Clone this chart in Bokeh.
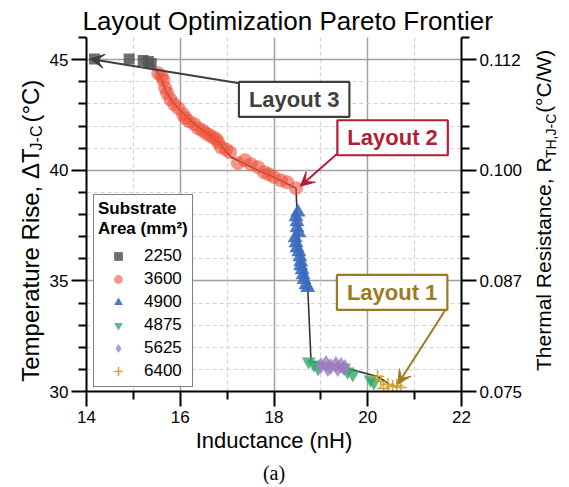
import math
from bokeh.plotting import figure
from bokeh.layouts import row
from bokeh.models import (Range1d, LinearAxis, FixedTicker, Label, Arrow, VeeHead,
                          Legend, LegendItem, Title)
from bokeh.embed import file_html
from bokeh.resources import INLINE

# ---------------- data ----------------
sq_x = [14.17, 14.91, 15.21, 15.32, 15.38]
sq_y = [45.03, 45.03, 44.96, 44.92, 44.83]

ci_x = [15.53, 15.60, 15.64, 15.68, 15.72, 15.79, 15.87, 15.96, 16.06, 16.11, 16.19,
        16.30, 16.38, 16.47, 16.55, 16.62, 16.70, 16.77, 16.81, 16.87, 16.98, 17.06,
        17.23, 17.38, 17.51, 17.66, 17.79, 17.89, 18.00, 18.15, 18.28, 18.47]
ci_y = [44.38, 44.25, 44.07, 43.71, 43.48, 43.21, 42.98, 42.80, 42.53, 42.35, 42.21,
        42.08, 41.90, 41.81, 41.67, 41.58, 41.49, 41.40, 41.26, 41.04, 40.94, 40.81,
        40.32, 40.45, 40.27, 40.14, 39.91, 39.82, 39.69, 39.55, 39.46, 39.19]

tri_x = [18.51, 18.47, 18.49, 18.49, 18.53, 18.45, 18.47, 18.49, 18.53, 18.55, 18.57,
         18.57, 18.60, 18.62, 18.64, 18.68, 18.72]
tri_y = [38.11, 37.89, 37.66, 37.39, 37.17, 36.94, 36.71, 36.49, 36.31, 36.08, 35.86,
         35.68, 35.50, 35.27, 35.05, 34.82, 34.69]

inv_x = [18.74, 18.85, 18.94, 19.49, 19.57, 19.68, 20.06, 20.13]
inv_y = [31.35, 31.22, 31.04, 31.08, 30.90, 30.77, 30.54, 30.41]

dia_x = [19.00, 19.11, 19.21, 19.32, 19.43, 19.51, 19.15, 19.36]
dia_y = [31.17, 31.26, 31.13, 31.22, 31.17, 31.08, 31.04, 31.04]

plus_x = [20.21, 20.28, 20.43, 20.53, 20.62, 20.34, 20.70]
plus_y = [30.68, 30.45, 30.32, 30.23, 30.27, 30.14, 30.18]

front_x = [15.38, 15.53, 15.62, 15.70, 15.85, 16.05, 16.30, 16.55, 16.81, 17.09,
           17.66, 18.00, 18.47, 18.49, 18.57, 18.72, 18.79, 19.49, 20.21, 20.45]
front_y = [44.83, 44.38, 44.00, 43.55, 43.05, 42.60, 42.10, 41.70, 41.27, 40.59,
           40.00, 39.69, 39.19, 38.10, 35.86, 34.69, 31.35, 31.08, 30.68, 30.35]

series_labels = ["2250", "3600", "4900", "4875", "5625", "6400"]

x_ticks = [14, 16, 18, 20, 22]
x_minor = [15, 17, 19, 21]
y_ticks = [30, 35, 40, 45]
y_minor = [31, 32, 33, 34, 36, 37, 38, 39, 41, 42, 43, 44, 46]
r_ticks = [0.075, 0.0875, 0.100, 0.1125]
r_tick_labels = ["0.075", "0.087", "0.100", "0.112"]
r_minor = [v / 400.0 for v in y_minor]

# layout callouts: (text, box centre, arrow start, arrow tip)
callouts = [
    ("Layout 3", (18.43, 43.20), (17.26, 43.93), (14.08, 45.03)),
    ("Layout 2", (20.53, 41.47), (19.36, 40.77), (18.56, 39.28)),
    ("Layout 1", (20.52, 34.48), (21.70, 33.83), (20.64, 30.33)),
]
callout_colors = ["#3f3f3f", "#b21f35", "#9e7a1f"]

# ---------------- page geometry ----------------
W, H = 569, 487
LEFT_W, RIGHT_W = 46, 39
MAIN_W = W - LEFT_W - RIGHT_W
FL, FR, FT, FB = 85, 461, 37, 392          # frame edges in page pixels
X0, X1, Y0, Y1 = 14, 22, 30, 46
FONT = "Liberation Sans"

p = figure(width=MAIN_W, height=H, x_range=Range1d(X0, X1), y_range=Range1d(Y0, Y1),
           output_backend="svg", toolbar_location=None,
           min_border_left=FL - LEFT_W, min_border_right=W - RIGHT_W - FR,
           min_border_top=FT, min_border_bottom=H - FB)
p.outline_line_color = None
p.background_fill_color = "white"
p.border_fill_color = "white"

p.title.text = "Layout Optimization Pareto Frontier"
p.title.text_font = FONT
p.title.text_font_size = "26px"
p.title.text_font_style = "normal"
p.title.align = "left"
p.title.offset = -4
p.title.text_color = "black"
p.title.standoff = 3


def style_axis(ax):
    ax.axis_line_width = 2
    ax.axis_line_color = "black"
    ax.major_tick_line_width = 2
    ax.minor_tick_line_width = 2
    ax.major_tick_line_color = "black"
    ax.minor_tick_line_color = "black"
    ax.major_tick_in = 0
    ax.minor_tick_in = 0
    ax.major_tick_out = 15
    ax.minor_tick_out = 8
    ax.major_label_text_font = FONT
    ax.major_label_text_font_size = "17px"
    ax.major_label_text_color = "black"
    ax.major_label_standoff = 3


xa = p.xaxis[0]
xa.ticker = FixedTicker(ticks=x_ticks, minor_ticks=x_minor)
style_axis(xa)
xa.major_label_standoff = 4
xa.axis_label = "Inductance (nH)"
xa.axis_label_text_font = FONT
xa.axis_label_text_font_size = "22px"
xa.axis_label_text_font_style = "normal"
xa.axis_label_text_color = "black"
xa.axis_label_standoff = 2

ya = p.yaxis[0]
ya.ticker = FixedTicker(ticks=y_ticks, minor_ticks=y_minor)
style_axis(ya)

p.extra_y_ranges = {"rth": Range1d(Y0 / 400.0, Y1 / 400.0)}
ra = LinearAxis(y_range_name="rth", ticker=FixedTicker(ticks=r_ticks, minor_ticks=r_minor))
ra.major_label_overrides = {t: s for t, s in zip(r_ticks, r_tick_labels)}
style_axis(ra)
p.add_layout(ra, "right")

p.add_layout(Title(text="(a)", align="center", text_font="Liberation Serif",
                   text_font_size="20px", text_font_style="normal", text_color="black",
                   standoff=8), "below")

for g in (p.xgrid[0], p.ygrid[0]):
    g.grid_line_color = "#a0a0a0"
    g.grid_line_width = 1.5
    g.minor_grid_line_color = "#d2d2d2"
    g.minor_grid_line_width = 1.2
    g.minor_grid_line_dash = "4 3"
p.xgrid[0].ticker = xa.ticker
p.ygrid[0].ticker = ya.ticker

# ---------------- glyphs ----------------
p.line(front_x, front_y, line_color="#333333", line_width=1.6)

r_sq = p.scatter(sq_x, sq_y, marker="square", size=11, fill_color="#555555",
                 line_color=None, fill_alpha=0.85)
r_ci = p.scatter(ci_x, ci_y, marker="circle", size=14, fill_color="#ef5038",
                 line_color=None, fill_alpha=0.6)
r_tri = p.scatter(tri_x, tri_y, marker="triangle", size=15, fill_color="#3b6bbf",
                  line_color=None, fill_alpha=0.9)
r_inv = p.scatter(inv_x, inv_y, marker="inverted_triangle", size=14, fill_color="#35a86a",
                  line_color=None, fill_alpha=0.8)
r_dia = p.scatter(dia_x, dia_y, marker="diamond", size=17, fill_color="#9f7ac0",
                  line_color=None, fill_alpha=0.8)
r_plus = p.scatter(plus_x, plus_y, marker="cross", size=13, line_color="#d09a25",
                   line_width=1.6, line_alpha=0.9)

# ---------------- callouts ----------------
for (txt, (bx, by), (sx, sy), (ex, ey)), col in zip(callouts, callout_colors):
    p.add_layout(Arrow(x_start=sx, y_start=sy, x_end=ex, y_end=ey, line_color=col,
                       line_width=2,
                       end=VeeHead(size=14, fill_color=col, line_color=col, line_width=1)))
for (txt, (bx, by), (sx, sy), (ex, ey)), col in zip(callouts, callout_colors):
    p.add_layout(Label(x=bx, y=by, text=txt, text_align="center", text_baseline="middle",
                       text_font=FONT, text_font_size="22px", text_font_style="bold",
                       text_color=col, border_line_color=col, border_line_width=2.2,
                       background_fill_color="white", background_fill_alpha=1,
                       padding=dict(x=10, y=5)))

# ---------------- legend ----------------
legend = Legend(items=[LegendItem(label=lab, renderers=[r]) for lab, r in
                       zip(series_labels, [r_sq, r_ci, r_tri, r_inv, r_dia, r_plus])],
                location=(7, 4), title="Substrate\nArea (mm²)",
                title_text_font=FONT, title_text_font_size="17px",
                title_text_font_style="bold", title_text_color="black",
                label_text_font=FONT, label_text_font_size="17px",
                label_text_color="black",
                border_line_color="black", border_line_width=1.5,
                background_fill_color="white", background_fill_alpha=1,
                padding=4, margin=0, spacing=1, glyph_width=40, glyph_height=22,
                label_height=22, label_standoff=6, title_standoff=6)
p.add_layout(legend)

# ---------------- rotated axis titles with subscripts (side canvases) ----------------
W_EM = {"T": .611, "e": .556, "m": .833, "p": .556, "r": .333, "a": .556, "t": .278,
        "u": .556, " ": .278, "R": .722, "i": .222, "s": .5, ",": .278, "Δ": .5,
        "J": .5, "-": .333, "C": .722, "(": .333, "°": .4, ")": .333, "h": .556,
        "l": .222, "n": .556, "c": .5, "H": .722, "/": .278, "W": .944}

ROT_SHIFT = -9   # rotated text lands right of its anchor; compensate


def tw(s, size):
    return sum(W_EM.get(c, .556) for c in s) * size


def side_canvas(width):
    # frame spans the same rows as the main frame (row layouts align frames);
    # data units are page pixels measured upward from the page bottom
    f = figure(width=width, height=H, x_range=Range1d(0, width),
               y_range=Range1d(H - FB, H - FT),
               output_backend="svg", toolbar_location=None, x_axis_location=None,
               y_axis_location=None, min_border=0, min_border_left=0, min_border_right=0,
               min_border_top=FT, min_border_bottom=H - FB)
    f.outline_line_color = None
    f.background_fill_color = "white"
    f.border_fill_color = "white"
    f.xgrid.visible = False
    f.ygrid.visible = False
    return f


def vertical_title(f, parts, center_py, base_px):
    # parts: (text, font size, baseline shift in px, extra gap after); reads bottom to top
    total = sum(tw(t, fs) + g for t, fs, _, g in parts)
    py = center_py + total / 2.0
    for t, fs, shift, gap in parts:
        f.add_layout(Label(x=base_px + shift + ROT_SHIFT, y=H - py, text=t,
                           angle=math.pi / 2, text_align="left",
                           text_baseline="alphabetic", text_font=FONT,
                           text_font_size=f"{fs}px", text_color="black"))
        py -= tw(t, fs) + gap


left_f = side_canvas(LEFT_W)
vertical_title(left_f, [("Temperature Rise, ΔT", 24, 0, 0), ("J-C", 16, 6, 3),
                        (" (°C)", 24, 0, 0)], 227.5, 39)

right_f = side_canvas(RIGHT_W)
vertical_title(right_f, [("Thermal Resistance, R", 21, 0, 0), ("TH,J-C", 14, 7, 1),
                         (" (°C/W)", 21, 0, 0)], 207.5, 552 - (W - RIGHT_W))

page = row(left_f, p, right_f, spacing=0)
open("out.html", "w").write(file_html(page, INLINE))
